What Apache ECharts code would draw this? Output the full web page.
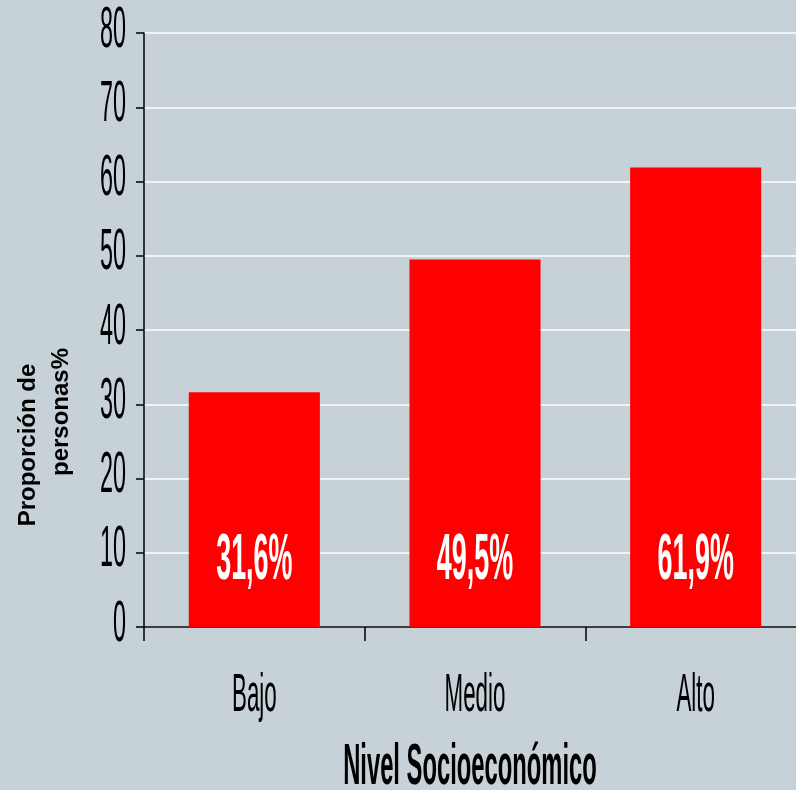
<!DOCTYPE html>
<html><head><meta charset="utf-8">
<script src="https://cdn.jsdelivr.net/npm/echarts@6/dist/echarts.min.js"></script>
<style>html,body{margin:0;padding:0;background:#c6d1d8}#c{width:796px;height:790px}</style>
</head><body><div id="c"></div>
<script>
const categories = ['Bajo', 'Medio', 'Alto'];
const values = [31.6, 49.5, 61.9];
const valueLabels = ['31,6%', '49,5%', '61,9%'];
const yTicks = [0, 10, 20, 30, 40, 50, 60, 70, 80];
const yTitleLines = ['Proporción de', 'personas%'];
const xTitle = 'Nivel Socioeconómico';

const FF = '"Liberation Sans", Arial, sans-serif';
const SQ = 0.41; // horizontal squeeze of the reference's text
const chart = echarts.init(document.getElementById('c'));
chart.setOption({
  backgroundColor: '#c6d1d8',
  animation: false,
  grid: { left: 144, top: 33, height: 594, width: 662, containLabel: false, outerBoundsMode: 'none' },
  xAxis: {
    type: 'category', data: categories,
    axisLine: { lineStyle: { color: '#000', width: 1.5 } },
    axisTick: { show: true, length: 14, lineStyle: { color: '#000', width: 1.5 } },
    axisLabel: { show: false }
  },
  yAxis: {
    type: 'value', min: 0, max: 80, interval: 10,
    axisLine: { show: true, lineStyle: { color: '#000', width: 1.5 } },
    axisTick: { show: true, length: 8, lineStyle: { color: '#000', width: 1.5 } },
    splitLine: { lineStyle: { color: '#ffffff', width: 1.5 } },
    axisLabel: { show: false }
  },
  series: [{
    type: 'bar', data: values, barCategoryGap: '40.6%',
    itemStyle: { color: '#ff0000' }
  }]
});

function txt(text, x, y, size, opts) {
  opts = opts || {};
  return {
    type: 'text', x: x, y: y, silent: true, z: 100,
    scaleX: opts.sx != null ? opts.sx : SQ, scaleY: 1, rotation: opts.rot || 0,
    style: {
      text: text, fontFamily: FF, fontSize: size, fontWeight: opts.bold ? 'bold' : 'normal',
      fill: opts.fill || '#000', align: opts.align || 'center', verticalAlign: 'middle'
    }
  };
}
const g = [];
yTicks.forEach(v => {
  const py = chart.convertToPixel({ yAxisIndex: 0 }, v);
  g.push(txt(String(v), 126, py - 2, 57, { align: 'right' }));
});
categories.forEach((c, i) => {
  const px = chart.convertToPixel({ xAxisIndex: 0 }, c);
  g.push(txt(c, px, 696, 54.5));
  const ly = chart.convertToPixel({ yAxisIndex: 0 }, 9.2);
  g.push(txt(valueLabels[i], px, ly + 2, 65.6, { bold: true, fill: '#fff' }));
});
g.push(txt(xTitle, 470, 768, 58, { bold: true }));
g.push(txt(yTitleLines[0], 28, 445, 24, { bold: true, sx: 1, rot: Math.PI / 2 }));
g.push(txt(yTitleLines[1], 61, 412, 24, { bold: true, sx: 1, rot: Math.PI / 2 }));
chart.setOption({ graphic: g });
</script></body></html>
